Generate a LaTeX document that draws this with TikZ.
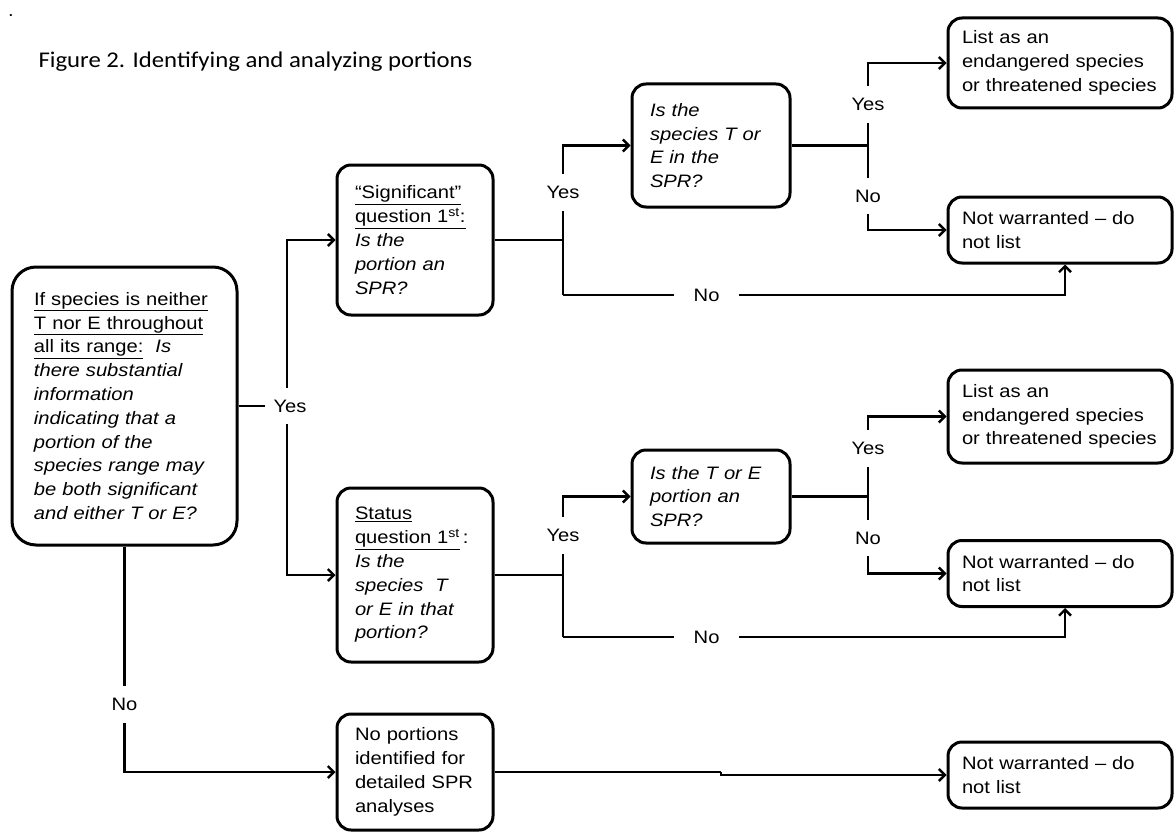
\documentclass[tikz,border=0pt]{standalone}
\usepackage{fontspec}
\setmainfont{Liberation Sans}[FakeStretch=1.12]
\newfontfamily\titlefont{Carlito}[FakeStretch=1.1]
\usetikzlibrary{arrows.meta}

\newcommand{\boxtext}{\fontsize{18}{23.8}\selectfont}

\begin{document}
\begin{tikzpicture}[x=1pt,y=-1pt,
	box/.style={draw, line width=3pt, rounded corners=14pt, align=left, inner xsep=18pt, inner ysep=0pt, font=\boxtext},
	endbox/.style={box, inner xsep=14pt, text width=196pt},
	lbl/.style={fill=white, inner xsep=9pt, inner ysep=12pt, font=\boxtext},
	link/.style={line width=2.8pt},
	arr/.style={link, -{Straight Barb[length=6pt,width=12pt,line width=2.4pt]}}]
	\useasboundingbox (0,0) rectangle (1174,832);

	% title
	\node[anchor=base, font=\boxtext] (dot) at (11,17) {.};
	\node[anchor=west, font=\titlefont\fontsize{22.5}{26}\selectfont] (title) at (35,62) {Figure 2. Identifying and analyzing portions};

	% question boxes
	\node[box, rounded corners=24pt, inner xsep=22pt, text width=181pt, minimum height=278pt] (main) at (124.5,406) {\underline{If species is neither}\\
		\underline{T nor E throughout}\\
		\underline{all its range:}\ \ \textit{Is}\\
		\textit{there substantial}\\
		\textit{information}\\
		\textit{indicating that a}\\
		\textit{portion of the}\\
		\textit{species range may}\\
		\textit{be both significant}\\
		\textit{and either T or E?}};
	\node[box, text width=120pt, minimum height=150pt] (sig) at (415,240) {\underline{“Significant”}\\
		\underline{question 1\textsuperscript{st}:}\\
		\textit{Is the}\\
		\textit{portion an}\\
		\textit{SPR?}};
	\node[box, text width=120pt, minimum height=174pt] (status) at (415,575) {\underline{Status}\\
		\underline{question 1\textsuperscript{st}}\,:\\
		\textit{Is the}\\
		\textit{species\ \ T}\\
		\textit{or E in that}\\
		\textit{portion?}};
	\node[box, text width=120pt, minimum height=116pt] (noport) at (415,772) {No portions\\
		identified for\\
		detailed SPR\\
		analyses};
	\node[box, text width=122pt, minimum height=123pt] (q1) at (711,145.5) {\textit{Is the}\\
		\textit{species T or}\\
		\textit{E in the}\\
		\textit{SPR?}};
	\node[box, text width=122pt, minimum height=93pt] (q2) at (711,496.5) {\textit{Is the T or E}\\
		\textit{portion an}\\
		\textit{SPR?}};

	% outcome boxes
	\node[endbox, minimum height=90pt] (list1) at (1060,63) {List as an\\ endangered species\\ or threatened species};
	\node[endbox, minimum height=66pt] (nw1) at (1060,230) {Not warranted -- do\\ not list};
	\node[endbox, minimum height=93pt] (list2) at (1060,416.5) {List as an\\ endangered species\\ or threatened species};
	\node[endbox, minimum height=66pt] (nw2) at (1060,573.5) {Not warranted -- do\\ not list};
	\node[endbox, minimum height=66pt] (nw3) at (1060,775) {Not warranted -- do\\ not list};

	% junctions
	\coordinate (jy) at (287,406);
	\coordinate (j1) at (563,240);
	\coordinate (n1) at (563,295);
	\coordinate (j2) at (563,575);
	\coordinate (n2) at (563,637);
	\coordinate (j3) at (868,145.5);
	\coordinate (j4) at (868,496.5);
	\coordinate (jog) at (721,772);

	% first question
	\draw[arr] (jy) |- (sig.west);
	\draw[arr] (jy) |- (status.west);
	\draw[link] (main.east) -- (jy) node[lbl, xshift=3pt] (ymain) {Yes};
	\draw[arr] (main.south) |- node[lbl, pos=0.35] (nmain) {No} (noport.west);
	\draw[link] (noport.east) -- (jog);
	\draw[arr] (jog) |- (nw3.west);

	% significant first
	\draw[link] (sig.east) -- (j1) -- (n1);
	\draw[arr] (j1) |- node[lbl, pos=0.25] (ysig) {Yes} (q1.west);
	\draw[arr] (n1) -| node[lbl, pos=0.143, inner xsep=20pt] (nsig) {No} ([xshift=5pt]nw1.south);
	\draw[link] (q1.east) -- (j3);
	\draw[arr] (j3) |- node[lbl, pos=0.25] (yq1) {Yes} (list1.west);
	\draw[arr] (j3) |- node[lbl, pos=0.3] (nq1) {No} (nw1.west);

	% status first
	\draw[link] (status.east) -- (j2) -- (n2);
	\draw[arr] (j2) |- node[lbl, pos=0.25] (yst) {Yes} (q2.west);
	\draw[arr] (n2) -| node[lbl, pos=0.143, inner xsep=20pt] (nst) {No} ([xshift=5pt]nw2.south);
	\draw[link] (q2.east) -- (j4);
	\draw[arr] (j4) |- node[lbl, pos=0.3] (yq2) {Yes} (list2.west);
	\draw[arr] (j4) |- node[lbl, pos=0.27] (nq2) {No} (nw2.west);
\end{tikzpicture}
\end{document}
